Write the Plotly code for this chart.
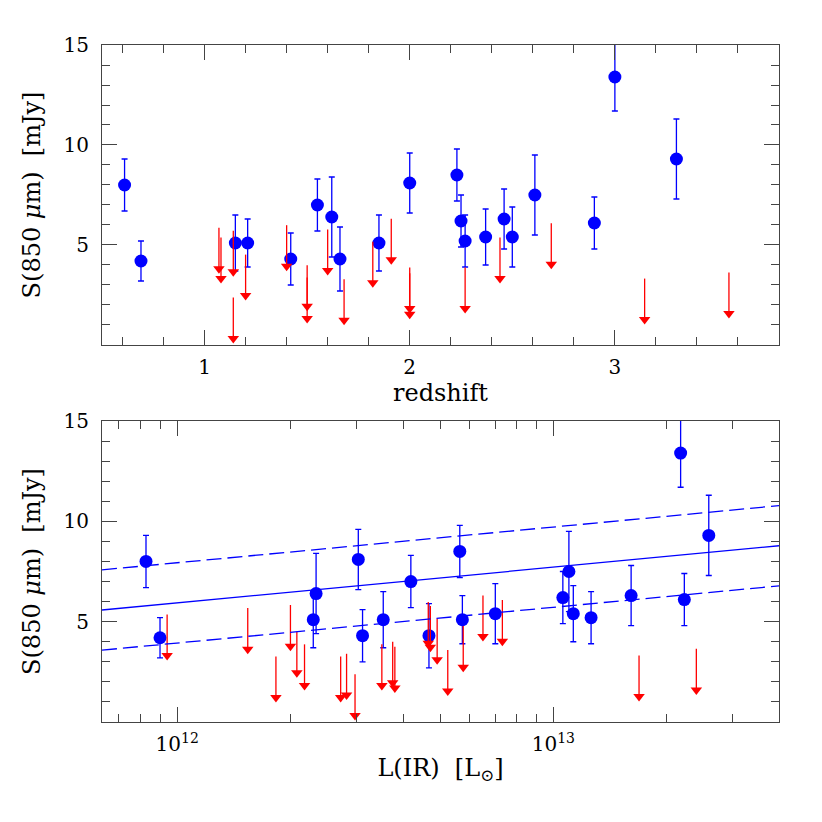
import numpy as np
import plotly.graph_objects as go

# detected sources: redshift, L(IR) [Lsun], S(850um) [mJy], 1-sigma error
z_det = [0.61, 0.69, 1.15, 1.21, 1.42, 1.55, 1.62, 1.66, 1.85, 2.00,
         2.23, 2.25, 2.27, 2.37, 2.46, 2.50, 2.61, 2.90, 3.00, 3.30]
lir_det = [8.26e11, 9.0e11, 2.30e12, 5.73e12, 3.11e12, 4.18e12, 2.34e12, 4.67e12, 3.53e12, 3.03e12,
           5.64e12, 1.06e13, 1.26e13, 1.13e13, 1.61e13, 7.01e12, 1.10e13, 2.23e13, 2.18e13, 2.59e13]
s_det = [8.0, 4.2, 5.1, 5.1, 4.3, 7.0, 6.4, 4.3, 5.1, 8.1,
         8.5, 6.2, 5.2, 5.4, 6.3, 5.4, 7.5, 6.1, 13.4, 9.3]
s_err = [1.3, 1.0, 1.4, 1.2, 1.3, 1.3, 2.0, 1.6, 1.4, 1.5,
         1.3, 1.3, 1.3, 1.4, 1.5, 1.5, 2.0, 1.3, 1.7, 2.0]

# upper limits vs redshift
z_lim = [1.07, 1.08, 1.14, 1.14, 1.20, 1.40, 1.50, 1.50, 1.60, 1.68,
         1.82, 1.91, 2.00, 2.00, 2.27, 2.44, 2.69, 3.145, 3.556]
s_lim_z = [5.86, 5.37, 5.71, 2.37, 4.52, 5.99, 3.99, 3.37, 5.77, 3.29,
           5.16, 6.31, 3.88, 3.59, 3.88, 5.37, 6.09, 3.32, 3.62]

# upper limits vs L(IR)
lir_lim = [9.4e11, 1.54e12, 1.83e12, 2.0e12, 2.08e12, 2.18e12, 2.72e12, 2.82e12, 2.97e12, 3.50e12,
           3.74e12, 3.79e12, 4.65e12, 4.71e12, 4.91e12, 5.24e12, 5.76e12, 6.50e12, 7.32e12, 1.69e13, 2.40e13]
s_lim_l = [5.36, 5.68, 3.27, 5.83, 4.50, 3.87, 3.27, 3.40, 2.38, 3.87,
           4.00, 3.75, 5.98, 5.78, 5.15, 3.59, 4.78, 6.31, 6.08, 3.32, 3.65]

# linear fit S = a + b*log10(L) with +/- scatter
fit_b = 1.78
fit_a = 5.58 - fit_b * 11.8
fit_scatter = 2.0

ARROW = 2.05  # arrow length in mJy (to arrowhead centre)
BLUE = '#0000ff'
RED = '#ff0000'
FONT = 'DejaVu Serif'

fig = go.Figure()


def add_panel(fig, x_det, x_lim, s_lim, xa, ya):
    fig.add_trace(go.Scatter(
        x=x_det, y=s_det, mode='markers', xaxis=xa, yaxis=ya,
        marker=dict(color=BLUE, size=13, line=dict(width=0)),
        error_y=dict(type='data', array=s_err, color=BLUE, thickness=1.3, width=3),
        showlegend=False))
    fig.add_trace(go.Scatter(
        x=x_lim, y=[s - ARROW for s in s_lim], mode='markers', xaxis=xa, yaxis=ya,
        marker=dict(color=RED, size=10, symbol='triangle-down', line=dict(width=0)),
        error_y=dict(type='data', symmetric=False, array=[ARROW] * len(s_lim),
                     arrayminus=[0] * len(s_lim), color=RED, thickness=1.3, width=0),
        showlegend=False))


add_panel(fig, z_det, z_lim, s_lim_z, 'x', 'y')
add_panel(fig, lir_det, lir_lim, s_lim_l, 'x2', 'y2')

# fit lines over the full L(IR) range
logl = np.array([11.8, 13.6])
for off, dash in [(0, 'solid'), (fit_scatter, '15px,6px'), (-fit_scatter, '15px,6px')]:
    fig.add_trace(go.Scatter(
        x=10 ** logl, y=fit_a + fit_b * logl + off, mode='lines', xaxis='x2', yaxis='y2',
        line=dict(color=BLUE, width=1.3, dash=dash), showlegend=False))

axis_common = dict(
    showline=True, linecolor='#444', linewidth=1.2, mirror='allticks',
    ticks='inside', ticklen=15, tickwidth=1, tickcolor='#444',
    showgrid=False, zeroline=False, automargin=False,
    tickfont=dict(family=FONT, size=20, color='black'),
    title_font=dict(family=FONT, size=24, color='black'),
)
minor_common = dict(ticks='inside', ticklen=8, tickcolor='#444')
ytitle = 'S(850\u00a0<i>μ</i>m)\u00a0\u00a0[mJy]'

# page body adds an 8px offset, so the figure is 814 px and margins shifted
fig.update_layout(
    width=814, height=814,
    margin=dict(l=94, r=43, t=37, b=100),
    plot_bgcolor='white', paper_bgcolor='white',
    xaxis=dict(axis_common, domain=[0, 1], anchor='y', range=[0.5, 3.8],
               tickvals=[1, 2, 3], ticklabelstandoff=4,
               minor=dict(minor_common, dtick=0.2, tick0=0),
               title=dict(text='redshift', standoff=2)),
    yaxis=dict(axis_common, domain=[0.5569, 1], anchor='x', range=[0, 15],
               tickvals=[5, 10, 15], ticklabelstandoff=8,
               minor=dict(minor_common, dtick=1, tick0=0),
               title=dict(text=ytitle, standoff=16)),
    xaxis2=dict(axis_common, domain=[0, 1], anchor='y2', type='log', range=[11.8, 13.6],
                tickvals=[1e12, 1e13], ticktext=['10<sup>12</sup>', '10<sup>13</sup>'],
                ticklabelstandoff=4,
                minor=dict(minor_common, tickmode='array',
                           tickvals=[7e11, 8e11, 9e11, 2e12, 3e12, 4e12, 5e12, 6e12, 7e12, 8e12, 9e12,
                                     2e13, 3e13]),
                title=dict(text='L(IR)\u00a0\u00a0[L<sub>⊙</sub>]', standoff=4)),
    yaxis2=dict(axis_common, domain=[0, 0.4446], anchor='x2', range=[0, 15],
                tickvals=[5, 10, 15], ticklabelstandoff=8,
                minor=dict(minor_common, dtick=1, tick0=0),
                title=dict(text=ytitle, standoff=16)),
)

fig.write_html("out.html")
